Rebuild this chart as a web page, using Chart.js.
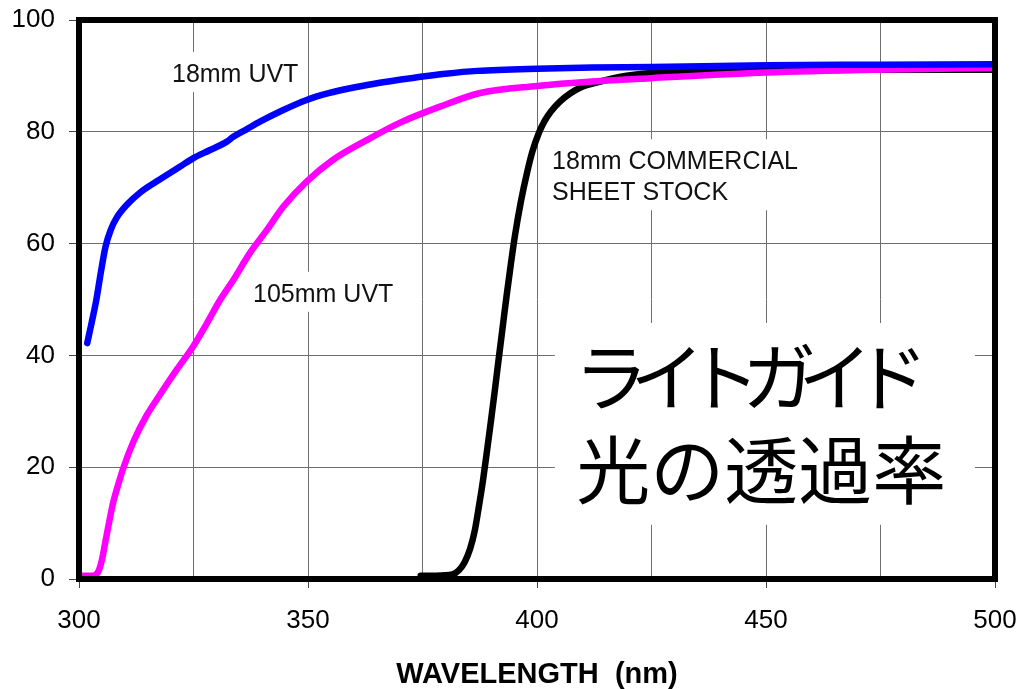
<!DOCTYPE html>
<html>
<head>
<meta charset="utf-8">
<script src="https://cdn.jsdelivr.net/npm/chart.js@4/dist/chart.umd.min.js"></script>
<style>
  html, body { margin: 0; padding: 0; background: #fff; }
  canvas { display: block; }
</style>
</head>
<body>
<canvas id="chart" width="1019" height="689"></canvas>
<script>
// Light transmission (%) against wavelength (nm) for three acrylic samples.

// 18mm UVT
const uvt18Nm = [301.8, 302.8, 303.8, 304.8, 305.8, 307.0, 308.2, 310.4, 313.3, 316.9, 322.1, 325, 328.5, 332.2, 333.7, 336.5, 339.5, 344.6, 349.7, 354.5, 359.2, 364.5, 370, 375, 380, 387, 400, 412, 425, 450, 475, 500];
const uvt18T  = [42.2, 46.0, 50.0, 55.0, 59.5, 62.6, 64.6, 66.9, 69.1, 71.1, 73.8, 75.3, 76.7, 78.2, 79.1, 80.4, 81.8, 83.9, 85.7, 86.9, 87.8, 88.6, 89.3, 89.9, 90.4, 90.9, 91.3, 91.5, 91.6, 91.9, 92.0, 92.1];

// 105mm UVT
const uvt105Nm = [300, 303.1, 304.2, 305.0, 305.7, 306.4, 307.5, 308.6, 309.7, 311.9, 314.8, 317.7, 321.3, 325.0, 327.9, 330.8, 333.7, 337.3, 341.0, 344.6, 349.7, 355.5, 362.8, 370, 378.8, 387.4, 400, 412, 425, 450, 474, 500];
const uvt105T  = [0.6, 0.6, 1.3, 3.4, 6.4, 9.4, 13.8, 17.0, 19.9, 24.6, 29.3, 33.0, 37.4, 41.7, 45.7, 49.9, 53.5, 58.3, 62.4, 66.6, 71.1, 75.0, 78.5, 81.6, 84.5, 86.9, 88.2, 89.0, 89.6, 90.6, 91.1, 91.4];

// 18mm commercial sheet stock
const sheetNm = [374.6, 378, 381.5, 383.0, 384.2, 385.4, 386.4, 387.3, 388.2, 389.0, 389.9, 390.8, 391.7, 392.6, 393.4, 394.3, 395.2, 396.5, 397.8, 399.0, 400.4, 401.7, 403.0, 405.0, 407.3, 410.0, 413.4, 418, 425, 435, 450, 475, 500];
const sheetT  = [0.6, 0.6, 0.8, 1.6, 3.0, 5.4, 8.6, 12.9, 17.6, 22.4, 28.0, 33.8, 39.8, 45.7, 50.9, 56.4, 61.5, 67.6, 72.6, 76.5, 79.8, 82.0, 83.6, 85.4, 86.9, 88.1, 88.9, 89.8, 90.5, 90.8, 91.0, 91.1, 91.1];

// Axis ticks
const xGridNm = [300, 325, 350, 375, 400, 425, 450, 475, 500];
const xTickLabels = ['300', '350', '400', '450', '500'];
const yTickValues = [0, 20, 40, 60, 80, 100];

// Texts
const xAxisTitle = 'WAVELENGTH  (nm)';
const curveNames = [['18mm UVT'], ['105mm UVT'], ['18mm COMMERCIAL', 'SHEET STOCK']];
const panelTitle = ['ライトガイド', '光の透過率'];

const LATIN = '"Liberation Sans", Arial, Helvetica, sans-serif';
const CJK = '"Noto Sans CJK JP", "Noto Sans CJK SC", sans-serif';

const toPoints = (xs, ys) => xs.map((v, i) => ({ x: v, y: ys[i] }));

// where each curve name sits (left edge / baseline, in axis units)
const nameSpots = [
  { nm: 320.3, t: 88.9 },
  { nm: 338.0, t: 49.6 },
  { nm: 403.3, t: 73.3 }
];
// white panel holding the Japanese title
const panelSpot = { nm0: 403.9, nm1: 495.6, t0: 45.8, t1: 9.7, textNm: 409, line1T: 36.1, line2T: 19.5 };

const annotations = {
  id: 'annotations',
  beforeDatasetsDraw(chart) {
    const { ctx, scales: { x, y } } = chart;
    ctx.save();
    ctx.font = '25px ' + LATIN;
    ctx.textAlign = 'left';
    ctx.textBaseline = 'alphabetic';
    curveNames.forEach((lines, k) => {
      const s = nameSpots[k];
      const lx = x.getPixelForValue(s.nm);
      const by = y.getPixelForValue(s.t);
      const w = Math.max(...lines.map(l => ctx.measureText(l).width));
      const lh = 31;
      ctx.fillStyle = '#fff';
      ctx.fillRect(lx - 9, by - 30, w + 18, 40 + (lines.length - 1) * lh);
      ctx.fillStyle = '#111';
      lines.forEach((l, i) => ctx.fillText(l, lx, by + i * lh));
    });

    // Japanese title panel
    const px0 = x.getPixelForValue(panelSpot.nm0), px1 = x.getPixelForValue(panelSpot.nm1);
    const py0 = y.getPixelForValue(panelSpot.t0), py1 = y.getPixelForValue(panelSpot.t1);
    ctx.fillStyle = '#fff';
    ctx.fillRect(px0, py0, px1 - px0, py1 - py0);
    ctx.fillStyle = '#000';
    ctx.font = '74px ' + CJK;
    ctx.textBaseline = 'middle';
    const tx = x.getPixelForValue(panelSpot.textNm);
    if ('letterSpacing' in ctx) ctx.letterSpacing = '-18px';
    ctx.fillText(panelTitle[0], tx - 4, y.getPixelForValue(panelSpot.line1T));
    if ('letterSpacing' in ctx) ctx.letterSpacing = '0px';
    ctx.fillText(panelTitle[1], tx - 2, y.getPixelForValue(panelSpot.line2T));
    ctx.restore();
  },
  afterDatasetsDraw(chart) {
    const { ctx, chartArea: a } = chart;
    ctx.save();
    ctx.strokeStyle = '#000';
    ctx.lineWidth = 6;
    ctx.strokeRect(a.left, a.top, a.right - a.left, a.bottom - a.top);
    ctx.restore();
  }
};

const lineStyle = {
  pointRadius: 0,
  borderWidth: 6.5,
  cubicInterpolationMode: 'monotone',
  borderCapStyle: 'round',
  borderJoinStyle: 'round',
  fill: false
};

new Chart(document.getElementById('chart'), {
  type: 'line',
  data: {
    datasets: [
      { label: curveNames[0].join(' '), data: toPoints(uvt18Nm, uvt18T), borderColor: '#0000ff', ...lineStyle },
      { label: curveNames[1].join(' '), data: toPoints(uvt105Nm, uvt105T), borderColor: '#ff00ff', ...lineStyle },
      { label: curveNames[2].join(' '), data: toPoints(sheetNm, sheetT), borderColor: '#000000', ...lineStyle }
    ]
  },
  options: {
    responsive: false,
    devicePixelRatio: 1,
    animation: false,
    events: [],
    layout: { padding: { left: 0, top: 20, right: 24, bottom: 0 } },
    plugins: { legend: { display: false }, tooltip: { enabled: false } },
    scales: {
      x: {
        type: 'linear',
        min: 300,
        max: 500,
        afterBuildTicks: s => { s.ticks = xGridNm.map(v => ({ value: v })); },
        afterFit: s => { s.height = 110; s.paddingLeft = 0; s.paddingRight = 0; },
        ticks: {
          autoSkip: false,
          maxRotation: 0,
          padding: 17,
          color: '#000',
          font: { family: LATIN, size: 26 },
          callback: v => (xTickLabels.includes(String(v)) ? String(v) : '')
        },
        grid: {
          color: '#6e6e6e',
          lineWidth: 1,
          tickLength: 9,
          tickColor: c => (c.tick && xTickLabels.includes(String(c.tick.value)) ? '#444' : 'rgba(0,0,0,0)')
        },
        border: { display: false },
        title: {
          display: true,
          text: xAxisTitle,
          color: '#000',
          padding: 0,
          font: { family: LATIN, size: 29, weight: 'bold', lineHeight: 1 }
        }
      },
      y: {
        min: 0,
        max: 100,
        afterBuildTicks: s => { s.ticks = yTickValues.map(v => ({ value: v })); },
        afterFit: s => { s.width = 79; s.paddingTop = 0; s.paddingBottom = 0; },
        ticks: {
          padding: 14,
          color: '#000',
          font: { family: LATIN, size: 26 }
        },
        grid: { color: '#6e6e6e', lineWidth: 1, tickLength: 10, tickColor: '#444' },
        border: { display: false }
      }
    }
  },
  plugins: [annotations]
});
</script>
</body>
</html>
